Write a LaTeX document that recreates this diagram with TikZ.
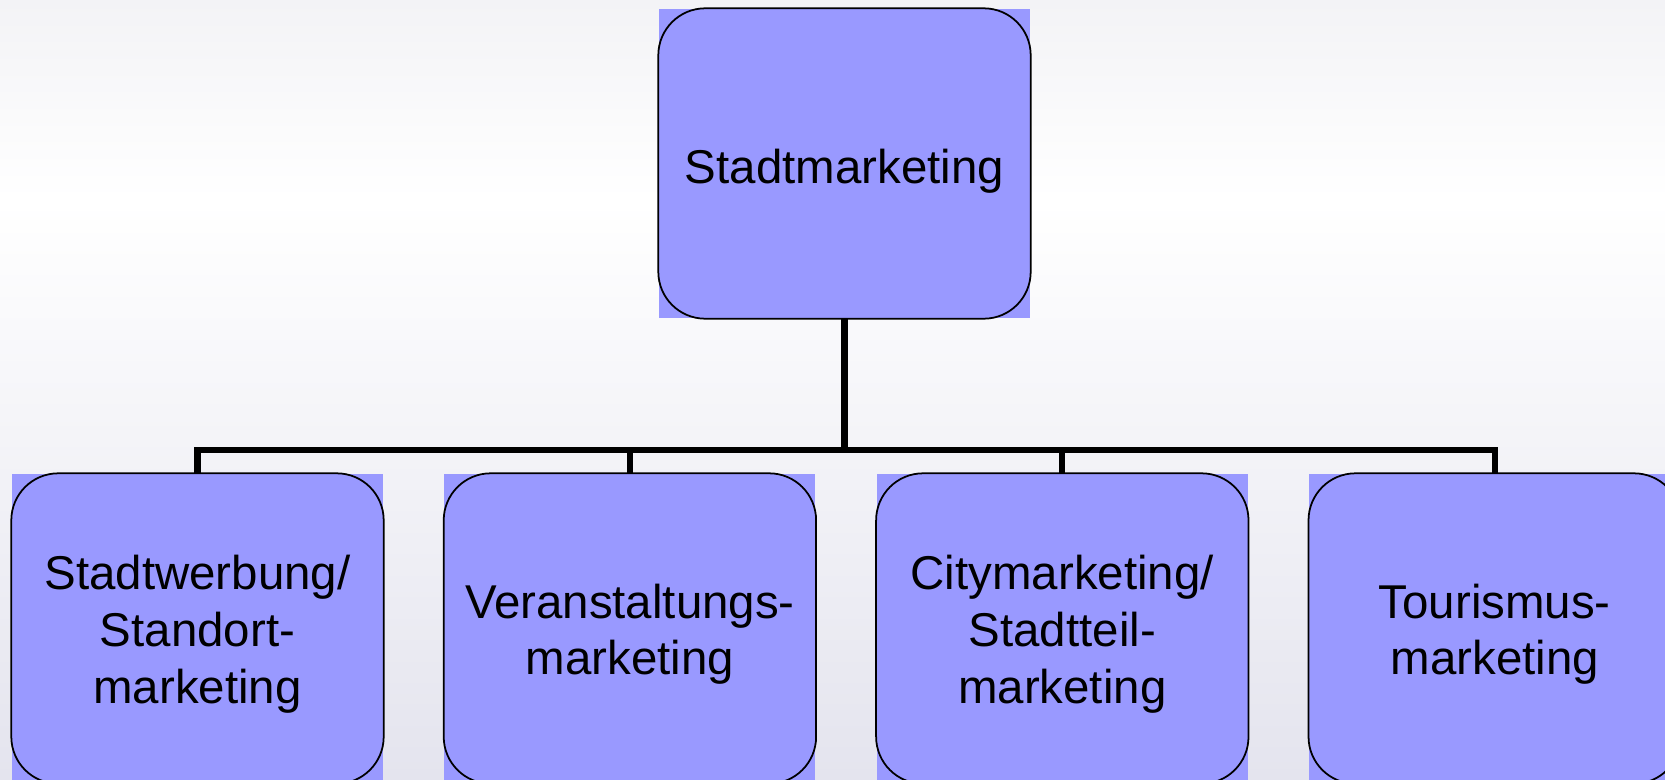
\documentclass[tikz,border=0pt]{standalone}
\usepackage{fontspec}
\setmainfont{Liberation Sans}
\usepackage{tikz}
\usetikzlibrary{positioning}
\definecolor{boxblue}{HTML}{9999FF}
\definecolor{bgtop}{HTML}{F3F3F6}
\definecolor{bgbot}{HTML}{E4E4EE}
\tikzset{
  mbox/.style={fill=boxblue, align=center, inner sep=0pt, minimum width=3.71cm, minimum height=3.09cm, text width=3.6cm, font=\fontsize{13.5}{16.1}\selectfont},
  subbox/.style={mbox, text height=13pt},
  mrim/.style={draw=black, line width=0.5pt, rounded corners=0.47cm},
  mline/.style={draw=black, line width=1.8pt}
}

\begin{document}
\begin{tikzpicture}
\clip (0,0) rectangle (16.65,-7.79);
\shade[top color=bgtop, bottom color=white] (0,0) rectangle (16.65,-2.0);
\shade[top color=white, bottom color=bgbot] (0,-2.0) rectangle (16.65,-7.79);
\node[mbox, text height=0.39cm, text depth=0cm] (top) at (8.445,-1.635) {Stadtmarketing};
\node[subbox] (b1) at (1.975,-6.285) {Stadtwerbung/\\Standort-\\marketing};
\node[subbox, right=0.60cm of b1] (b2) {Veranstaltungs-\\marketing};
\node[subbox, right=0.60cm of b2] (b3) {Citymarketing/\\Stadtteil-\\marketing};
\node[subbox, right=0.60cm of b3] (b4) {Tourismus-\\marketing};
\foreach \n in {top,b1,b2,b3,b4}
  \draw[mrim] (\n.south west) rectangle (\n.north east);
\coordinate (bus) at (0,-4.50);
\foreach \n in {b1,b2,b3,b4}
  \draw[mline] (top.south) -- (top.south |- bus) -| (\n.north);
\end{tikzpicture}
\end{document}
